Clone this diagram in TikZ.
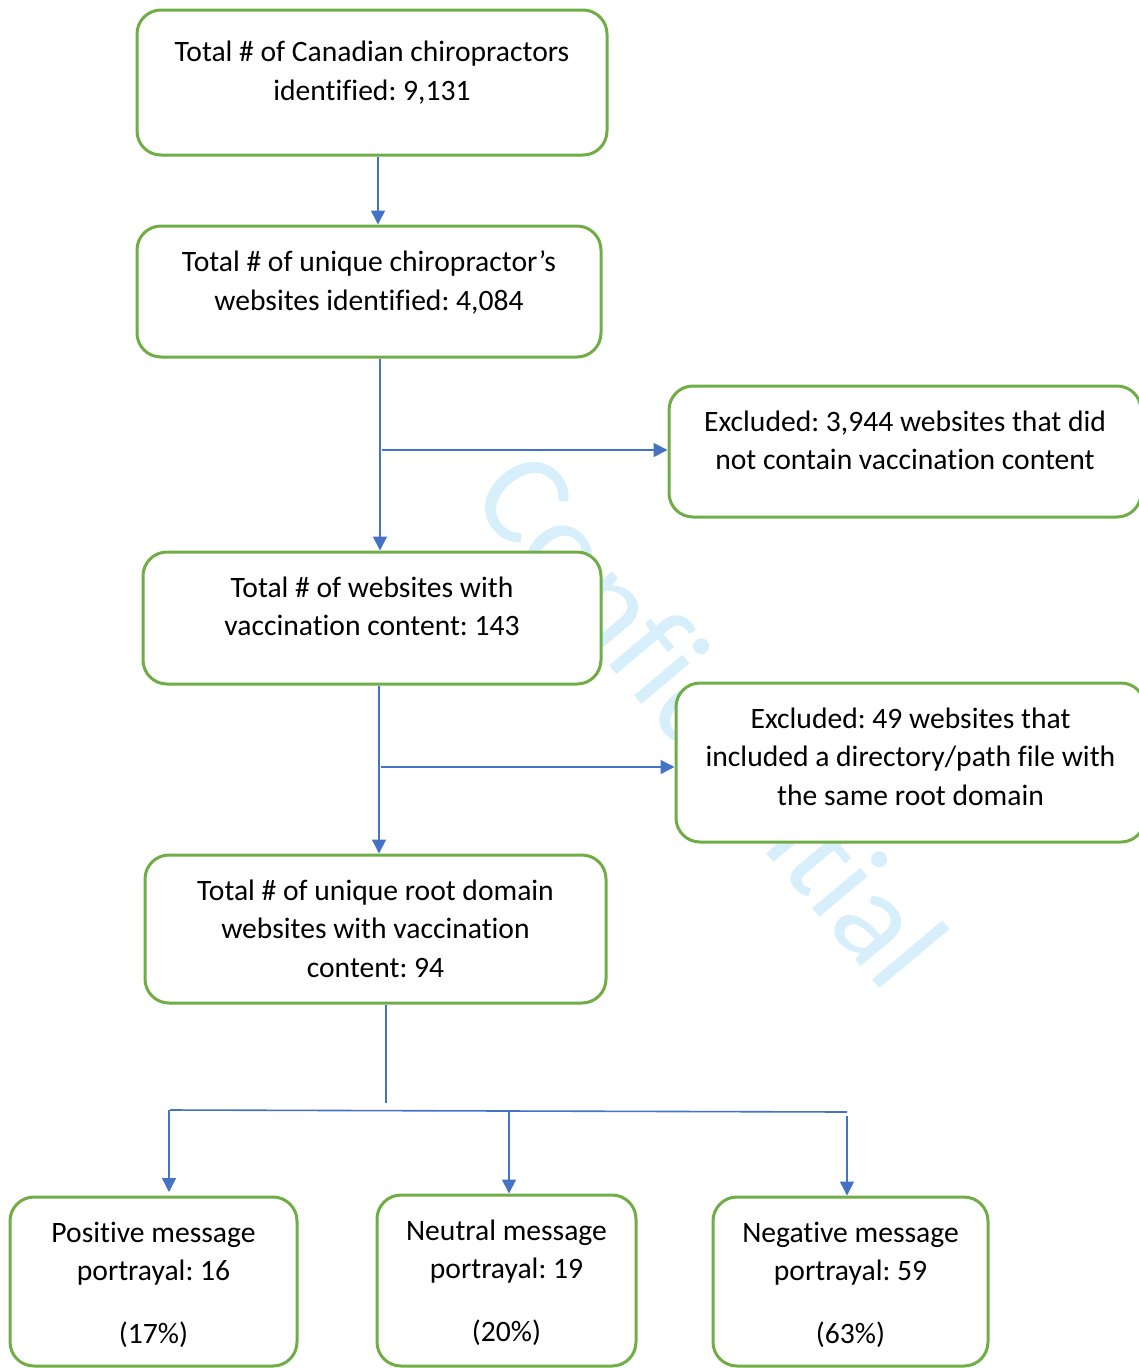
\documentclass[tikz,border=0pt]{standalone}
\usepackage{fontspec}
\setmainfont{Carlito}[Ligatures=NoCommon]
\usetikzlibrary{arrows.meta}
\definecolor{boxgreen}{RGB}{112,173,71}
\definecolor{lineblue}{RGB}{68,114,196}
\definecolor{wmblue}{RGB}{214,239,251}
\frenchspacing
\begin{document}
\begin{tikzpicture}[x=0.75pt,y=-0.75pt,
  box/.style n args={2}{draw=boxgreen, line width=2.25pt, rounded corners=18pt, fill=white,
    minimum width=#1*0.75pt, minimum height=#2*0.75pt, inner sep=0pt},
  lbl/.style={anchor=north, align=center, inner sep=0pt,
    font=\fontsize{22.2pt}{28.9pt}\selectfont\frenchspacing, yshift=-19.5pt},
  conn/.style={draw=lineblue, line width=1.2pt},
  arr/.style={conn, -{Triangle[width=10.5pt,length=10.5pt]}}]
\useasboundingbox (0,0) rectangle (1139,1368);

% watermark
\node[text=wmblue, rotate=-50, font=\fontsize{99pt}{99pt}\selectfont, inner sep=0pt] (wm) at (712,718) {Confidential};

% boxes
\node[box={470}{145}] (a) at (372,82.5) {};
\node[box={464}{131}] (b) at (369,291.5) {};
\node[box={472}{131}] (c) at (905,451.5) {};
\node[box={458}{132}] (d) at (372,618) {};
\node[box={469}{159}] (e) at (910.5,762.5) {};
\node[box={461}{148}] (f) at (375.5,929) {};
\node[box={287}{169}] (g) at (153.5,1281.5) {};
\node[box={259}{171}] (h) at (506.5,1280.5) {};
\node[box={275}{169}] (i) at (850.5,1281.5) {};

% labels
\node[lbl, yshift=-5pt] (ta) at (a.north) {Total \# of Canadian chiropractors\\identified: 9,131};
\node[lbl] (tb) at (b.north) {Total \# of unique chiropractor’s\\websites identified: 4,084};
\node[lbl] (tc) at (c.north) {Excluded: 3,944 websites that did\\not contain vaccination content};
\node[lbl] (td) at (d.north) {Total \# of websites with\\vaccination content: 143};
\node[lbl] (te) at (e.north) {Excluded: 49 websites that\\included a directory/path file with\\the same root domain};
\node[lbl] (tf) at (f.north) {Total \# of unique root domain\\websites with vaccination\\content: 94};
\node[lbl] (tg) at (g.north) {Positive message\\portrayal: 16\\[18pt](17\%)};
\node[lbl] (th) at (h.north) {Neutral message\\portrayal: 19\\[18pt](20\%)};
\node[lbl] (ti) at (i.north) {Negative message\\portrayal: 59\\[18pt](63\%)};

% connector coordinates
\coordinate (x1) at (378,0);
\coordinate (x2) at (380,0);
\coordinate (x3) at (379,0);
\coordinate (x4) at (386,0);
\coordinate (j1) at (382,450);
\coordinate (j2) at (381,767);
\coordinate (fend) at (386,1103);
\coordinate (h1) at (170,1110);
\coordinate (h2) at (847,1112);
\coordinate (hm) at (509,1111);
\coordinate (hr) at (847,1116);
\coordinate (gx) at (169,1110);
\coordinate (gtip) at (169,1192);

% connectors
\draw[arr] (a.south -| x1) -- (b.north -| x1);
\draw[arr] (b.south -| x2) -- (d.north -| x2);
\draw[arr] (j1) -- (j1 -| c.west);
\draw[arr] (d.south -| x3) -- (f.north -| x3);
\draw[arr] (j2) -- (j2 -| e.west);
\draw[conn] (f.south -| x4) -- (fend);
\draw[conn] (h1) -- (h2);
\draw[arr] (gx) -- (gtip);
\draw[arr] (hm) -- (h.north -| hm);
\draw[arr] (hr) -- (i.north -| hr);
\end{tikzpicture}
\end{document}
